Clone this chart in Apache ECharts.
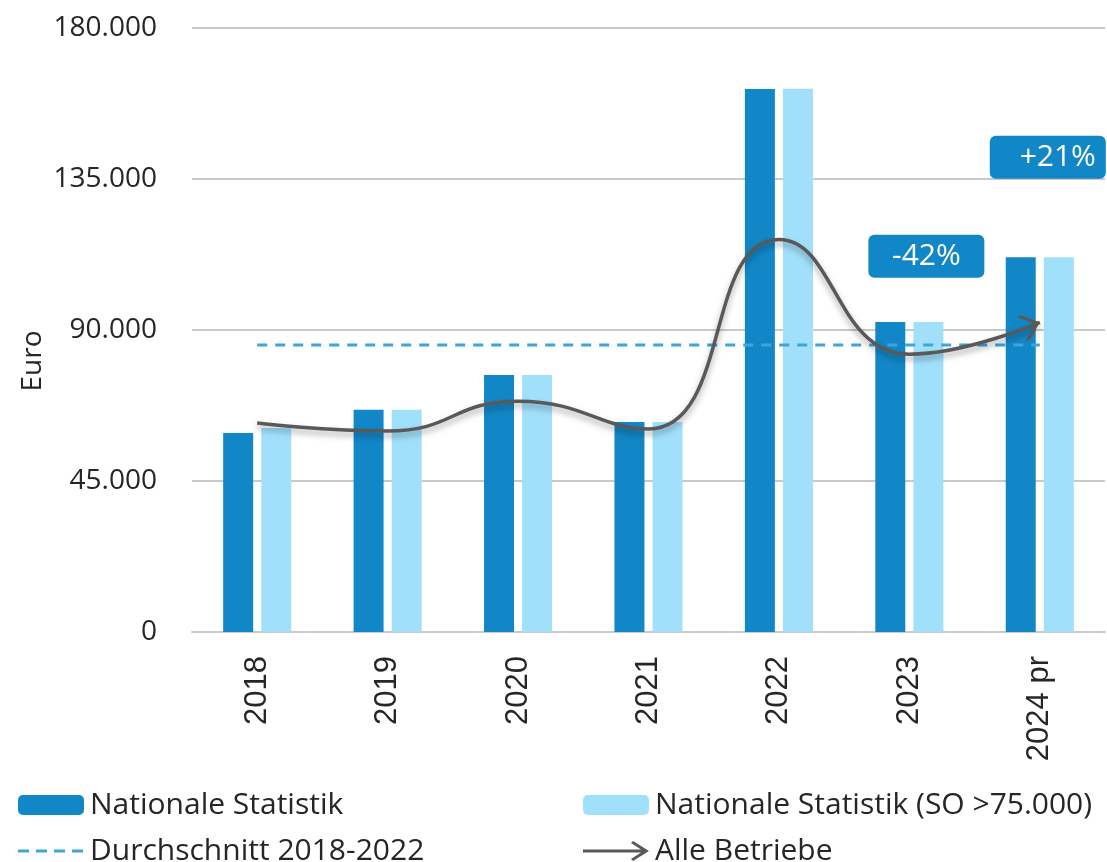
<!DOCTYPE html>
<html lang="de">
<head>
    <meta charset="UTF-8">
    <title>Nationale Statistik</title>
    <script src="https://cdn.jsdelivr.net/npm/echarts@6/dist/echarts.min.js"></script>
    <style>
        html, body { margin: 0; padding: 0; background: #fff; }
    </style>
</head>
<body>

<div id="chart_wrap" style="width: 1107px; height: 862px;"></div>

<script>
    // Werte
    var jahre = ['2018', '2019', '2020', '2021', '2022', '2023', '2024 pr'];
    var nationaleStatistik = [59300, 66200, 76600, 62600, 161800, 92400, 111700];
    var nationaleStatistikSO = [60800, 66200, 76600, 62600, 161900, 92400, 111700];
    var alleBetriebe = [62300, 59900, 68800, 60500, 117000, 82800, 92300];
    var durchschnitt = [85500, 85500, 85500, 85500, 85500, 85500, 85500];
    var veraenderung = ['-42%', '+21%'];
    var yTicks = [0, 45000, 90000, 135000, 180000];

    var dunkelBlau = '#1287C7';
    var hellBlau = '#A1E0FB';
    var grau = '#595959';
    var strichBlau = '#3DA5DC';
    var textFarbe = '#262626';

    var chart = echarts.init(document.getElementById('chart_wrap'));

    // Pfeilspitze am Ende der Linie
    var lineData = [];
    for (var i = 0; i < alleBetriebe.length; i++) {
        if (i === alleBetriebe.length - 1) {
            lineData.push({
                value: alleBetriebe[i],
                symbol: 'path://M0,0 L5,0 L20,13 L5,26 L0,26 L15,13 Z',
                symbolSize: [20, 26],
                symbolRotate: 20,
                symbolOffset: [-9.4, 3.4],
                itemStyle: { color: grau }
            });
        } else {
            lineData.push(alleBetriebe[i]);
        }
    }

    function legendRow(name, left, top, icon) {
        var item = { name: name };
        if (icon) item.icon = icon;
        return {
            orient: 'horizontal',
            left: left,
            top: top,
            itemWidth: 66,
            itemHeight: 20,
            textStyle: { fontFamily: 'Open Sans', fontSize: 30, lineHeight: 30, color: textFarbe, padding: [0, 0, 0, 1] },
            data: [item]
        };
    }

    var option = {
        backgroundColor: '#fff',
        animation: false,
        textStyle: { fontFamily: 'Open Sans', color: textFarbe },
        grid: {
            left: 192,
            right: 2,
            top: 28,
            bottom: 230
        },
        legend: [
            legendRow('Nationale Statistik', 13, 785),
            legendRow('Durchschnitt 2018-2022', 13, 831,
                'path://M0,8.5 L11,8.5 L11,11.5 L0,11.5 Z M18,8.5 L29,8.5 L29,11.5 L18,11.5 Z M36,8.5 L47,8.5 L47,11.5 L36,11.5 Z M54,8.5 L65,8.5 L65,11.5 L54,11.5 Z M0,0 L0.01,0 M66,20 L65.99,20'),
            legendRow('Nationale Statistik (SO >75.000)', 578, 785),
            legendRow('Alle Betriebe', 578, 831,
                'path://M0,8.5 L58,8.5 L48,2 L50,0 L66,10 L50,20 L48,18 L58,11.5 L0,11.5 Z')
        ],
        xAxis: {
            type: 'category',
            data: jahre,
            axisLine: { show: true, lineStyle: { color: '#C9C9C9', width: 2 } },
            axisTick: { show: false },
            axisLabel: {
                rotate: 90,
                margin: 24,
                fontFamily: 'Liberation Sans',
                fontSize: 31,
                color: textFarbe
            }
        },
        yAxis: {
            type: 'value',
            min: yTicks[0],
            max: yTicks[yTicks.length - 1],
            interval: yTicks[1] - yTicks[0],
            axisLine: { show: false },
            axisTick: { show: false },
            splitLine: { lineStyle: { color: '#C9C9C9', width: 2 } },
            axisLabel: {
                margin: 35,
                fontFamily: 'Open Sans',
                fontSize: 28,
                color: textFarbe,
                formatter: function (v) {
                    return v === 0 ? '0' : (v / 1000) + '.000';
                }
            }
        },
        series: [
            {
                name: 'Nationale Statistik',
                type: 'bar',
                data: nationaleStatistik,
                barWidth: 30,
                barGap: '27%',
                itemStyle: { color: dunkelBlau }
            },
            {
                name: 'Nationale Statistik (SO >75.000)',
                type: 'bar',
                data: nationaleStatistikSO,
                barWidth: 30,
                itemStyle: { color: hellBlau }
            },
            {
                name: 'Durchschnitt 2018-2022',
                type: 'line',
                data: durchschnitt,
                symbol: 'none',
                z: 3,
                itemStyle: { color: strichBlau },
                lineStyle: { color: strichBlau, width: 3, type: [10, 8] }
            },
            {
                name: 'Alle Betriebe',
                type: 'line',
                data: lineData,
                smooth: 0.5,
                symbol: 'none',
                showSymbol: true,
                z: 4,
                itemStyle: { color: grau },
                lineStyle: {
                    color: grau,
                    width: 3.5,
                    shadowColor: 'rgba(0,0,0,0.35)',
                    shadowBlur: 6,
                    shadowOffsetY: 4
                }
            }
        ]
    };

    chart.setOption(option);

    // Veränderungs-Kästchen über 2023 und 2024
    function box(text, coord, dx, textDx) {
        var p = chart.convertToPixel({ gridIndex: 0 }, coord);
        return {
            type: 'group',
            x: p[0] + dx,
            y: p[1],
            z: 10,
            children: [
                {
                    type: 'rect',
                    shape: { x: -58, y: -21.5, width: 116, height: 43, r: 6 },
                    style: { fill: dunkelBlau }
                },
                {
                    type: 'text',
                    x: textDx,
                    y: 0,
                    style: {
                        text: text,
                        fill: '#fff',
                        font: '30px "Open Sans"',
                        textAlign: 'center',
                        textVerticalAlign: 'middle'
                    }
                }
            ]
        };
    }

    chart.setOption({
        graphic: [
            {
                type: 'text',
                x: 33,
                y: 361,
                rotation: Math.PI / 2,
                style: {
                    text: 'Euro',
                    fill: textFarbe,
                    font: '28px "Open Sans"',
                    textAlign: 'center',
                    textVerticalAlign: 'middle'
                }
            },
            box(veraenderung[0], ['2023', 112000], 17, 0),
            box(veraenderung[1], ['2024 pr', 141500], 8, 10)
        ]
    });
</script>
</body>
</html>
